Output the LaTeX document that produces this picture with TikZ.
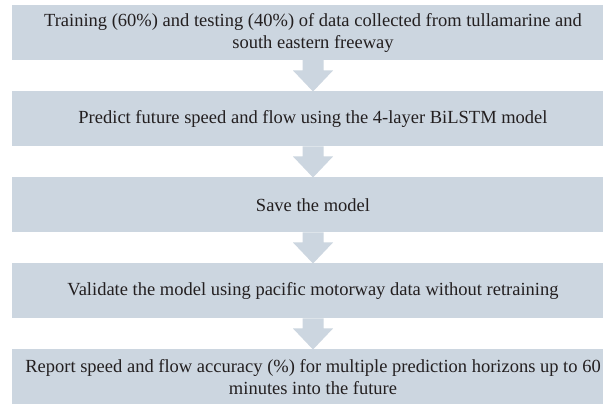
\documentclass[tikz,border=0pt]{standalone}
\usepackage{fontspec}
\setmainfont{Liberation Serif}
\usepackage{xcolor}
\usepackage{tikz}
\usetikzlibrary{calc}

\begin{document}
\begin{tikzpicture}[x=1pt,y=1pt]
\definecolor{fillColor}{RGB}{255,255,255}
\definecolor{boxColor}{RGB}{204,214,224}
\definecolor{textColor}{RGB}{35,31,32}
\tikzset{stepbox/.style={rectangle,fill=boxColor,text=textColor,inner sep=0pt,outer sep=0pt,
  minimum width=602pt,minimum height=55pt,align=center,
  font=\fontsize{18.5}{22}\selectfont}}
\path[use as bounding box,fill=fillColor] (0,0) rectangle (603,404);
\begin{scope}
\path[clip] (0,0) rectangle (603,404);

\node[stepbox] (train) at (313,371.5) {Training (60\%) and testing (40\%) of data collected from tullamarine and\\south eastern freeway};

\node[stepbox] (predict) at (313,285) {Predict future speed and flow using the 4-layer BiLSTM model};

\node[stepbox] (save) at (313,199) {Save the model};

\node[stepbox] (valid) at (313,113) {Validate the model using pacific motorway data without retraining};

\node[stepbox] (report) at (313,27) {Report speed and flow accuracy (\%) for multiple prediction horizons up to 60\\minutes into the future};

\foreach \a/\b in {train/predict,predict/save,save/valid,valid/report}
{
\path[fill=boxColor] ($(\a.south)+(-10.5,0)$) --
	($(\a.south)+(10.5,0)$) --
	($(\b.north)+(10.5,21)$) --
	($(\b.north)+(20,21)$) --
	(\b.north) --
	($(\b.north)+(-20,21)$) --
	($(\b.north)+(-10.5,21)$) -- cycle;
}
\end{scope}
\end{tikzpicture}
\end{document}
